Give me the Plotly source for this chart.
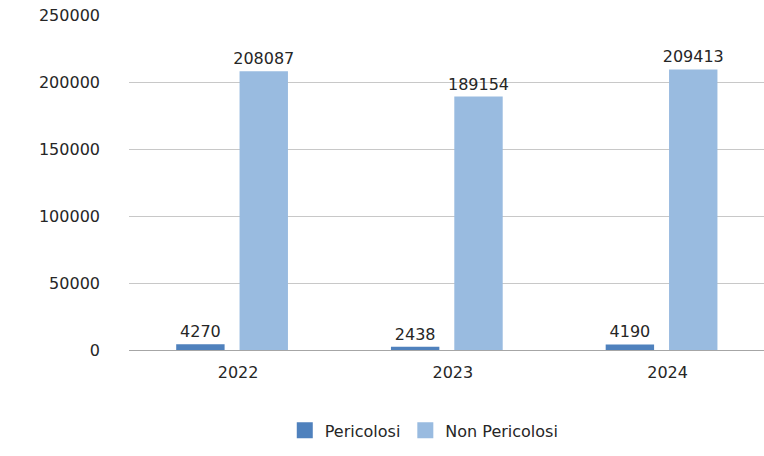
import plotly.graph_objects as go

years = ["2022", "2023", "2024"]
pericolosi = [4270, 2438, 4190]
non_pericolosi = [208087, 189154, 209413]
y_ticks = [0, 50000, 100000, 150000, 200000, 250000]

font_family = "DejaVu Sans"
text_color = "#262626"
c_per = "#4f81bd"
c_non = "#99bbe0"

fig = go.Figure()
fig.add_trace(go.Bar(
    name="Pericolosi", x=years, y=pericolosi,
    marker=dict(color=c_per, line=dict(width=0)),
    text=[str(v) for v in pericolosi], textposition="outside",
    textfont=dict(family=font_family, size=16, color=text_color),
    cliponaxis=False, showlegend=False,
))
fig.add_trace(go.Bar(
    name="Non Pericolosi", x=years, y=non_pericolosi,
    marker=dict(color=c_non, line=dict(width=0)),
    text=[str(v) for v in non_pericolosi], textposition="outside",
    textfont=dict(family=font_family, size=16, color=text_color),
    cliponaxis=False, showlegend=False,
))
# legend entries with square swatches
for name, col in [("Pericolosi", c_per), ("Non Pericolosi", c_non)]:
    fig.add_trace(go.Scatter(
        name=name, x=[None], y=[None], mode="markers",
        marker=dict(symbol="square", size=18, color=col),
        showlegend=True,
    ))

fig.update_layout(
    width=764, height=456,
    margin=dict(l=129, r=0, t=15, b=106, autoexpand=False),
    paper_bgcolor="white", plot_bgcolor="white",
    barmode="group", bargap=0.41, bargroupgap=0.236,
    font=dict(family=font_family, size=16, color=text_color),
    showlegend=True,
    legend=dict(orientation="h", x=0.465, xanchor="center", y=-0.24, yanchor="middle",
                font=dict(family=font_family, size=16, color=text_color),
                itemsizing="trace", traceorder="normal", itemwidth=30,
                tracegroupgap=0),
    xaxis=dict(type="category", range=[-0.48, 2.477], showgrid=False, automargin=False,
               showline=True, linecolor="#a6a6a6", linewidth=1, ticks="",
               ticklabelstandoff=8, ticklabelshift=6,
               tickfont=dict(family=font_family, size=16, color=text_color)),
    yaxis=dict(range=[0, 250000], tickvals=y_ticks, ticktext=[str(v) for v in y_ticks],
               showgrid=True, gridcolor="#c8c8c8", gridwidth=1, zeroline=False,
               automargin=False,
               showline=False, ticks="", ticklabelstandoff=28,
               tickfont=dict(family=font_family, size=16, color=text_color)),
)
fig.update_traces(constraintext="none", selector=dict(type="bar"))

fig.write_html("out.html", config={"displayModeBar": False},
               post_script="document.body.style.margin='0';")
